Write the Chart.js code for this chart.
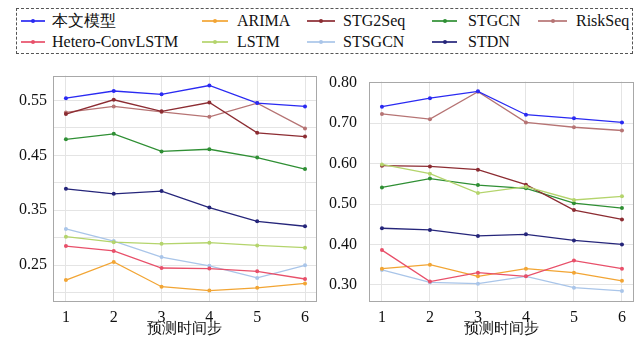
<!DOCTYPE html>
<html>
<head>
<meta charset="utf-8">
<script src="https://cdn.jsdelivr.net/npm/chart.js@4/dist/chart.umd.min.js"></script>
<style>
  body { margin: 0; width: 641px; height: 339px; background: #fff; position: relative; overflow: hidden;
         font-family: 'Liberation Serif'; }
  #legend { position: absolute; left: 16px; top: 8px; width: 617px; height: 46px;
            border: 1px dashed #555; box-sizing: border-box; }
  .lg-line { position: absolute; height: 1.6px; }
  .lg-dot { position: absolute; width: 4px; height: 4px; border-radius: 50%; }
  .lg-text { position: absolute; font-family: 'Liberation Serif'; font-size: 16px; line-height: 20px;
             white-space: nowrap; color: #111; }
  .panel { position: absolute; top: 60px; }
</style>
</head>
<body>
<div id="legend"></div>
<div class="panel" style="left:0px"><canvas id="chartA" width="320" height="279"></canvas></div>
<div class="panel" style="left:320px"><canvas id="chartB" width="321" height="279"></canvas></div>
<script>
// Prediction horizon (time steps)
const steps = [1, 2, 3, 4, 5, 6];

const seriesNames  = ['本文模型', 'Hetero-ConvLSTM', 'ARIMA', 'LSTM', 'STG2Seq', 'STSGCN', 'STGCN', 'STDN', 'RiskSeq'];
const seriesColors = ['#2a2af2', '#e8506a', '#f2a534', '#b4d46c', '#8c2c32', '#a9c5e9', '#2f8f34', '#25257a', '#b67474'];

// Left panel values
const oursA    = [0.554, 0.567, 0.561, 0.577, 0.545, 0.539];
const heteroA  = [0.285, 0.276, 0.245, 0.244, 0.239, 0.225];
const arimaA   = [0.223, 0.256, 0.211, 0.204, 0.209, 0.217];
const lstmA    = [0.302, 0.292, 0.289, 0.291, 0.286, 0.282];
const stg2seqA = [0.525, 0.551, 0.530, 0.546, 0.491, 0.484];
const stsgcnA  = [0.316, 0.294, 0.265, 0.249, 0.227, 0.250];
const stgcnA   = [0.479, 0.489, 0.457, 0.461, 0.446, 0.425];
const stdnA    = [0.389, 0.380, 0.385, 0.355, 0.330, 0.321];
const riskseqA = [0.528, 0.539, 0.529, 0.520, 0.545, 0.499];

// Right panel values
const oursB    = [0.741, 0.762, 0.779, 0.721, 0.712, 0.702];
const heteroB  = [0.386, 0.308, 0.330, 0.321, 0.360, 0.340];
const arimaB   = [0.340, 0.350, 0.321, 0.340, 0.330, 0.310];
const lstmB    = [0.598, 0.575, 0.527, 0.543, 0.510, 0.519];
const stg2seqB = [0.595, 0.593, 0.585, 0.548, 0.485, 0.462];
const stsgcnB  = [0.337, 0.306, 0.303, 0.321, 0.293, 0.285];
const stgcnB   = [0.541, 0.563, 0.547, 0.539, 0.502, 0.490];
const stdnB    = [0.440, 0.436, 0.421, 0.425, 0.410, 0.400];
const riskseqB = [0.723, 0.710, 0.778, 0.702, 0.690, 0.682];

const seriesA = [oursA, heteroA, arimaA, lstmA, stg2seqA, stsgcnA, stgcnA, stdnA, riskseqA];
const seriesB = [oursB, heteroB, arimaB, lstmB, stg2seqB, stsgcnB, stgcnB, stdnB, riskseqB];

const xTitle = '预测时间步';

const serifFont = "'Liberation Serif'";
Chart.defaults.font.family = serifFont;

// Legend (two rows, filled column by column)
const legendCols = [
  { lineL: 21,  lineR: 45,  text: 52 },
  { lineL: 202, lineR: 228, text: 237 },
  { lineL: 307, lineR: 335, text: 343 },
  { lineL: 432, lineR: 457, text: 468 },
  { lineL: 538, lineR: 567, text: 576 }
];
const legendRows = [21, 42];

function buildLegend() {
  const box = document.getElementById('legend');
  const ox = 17, oy = 9; // legend box inner origin
  seriesNames.forEach((name, i) => {
    const col = legendCols[Math.floor(i / 2)];
    const cy = legendRows[i % 2];
    const line = document.createElement('div');
    line.className = 'lg-line';
    line.style.left = (col.lineL - ox) + 'px';
    line.style.width = (col.lineR - col.lineL) + 'px';
    line.style.top = (cy - oy - 0.8) + 'px';
    line.style.background = seriesColors[i];
    line.style.opacity = '0.85';
    const dot = document.createElement('div');
    dot.className = 'lg-dot';
    dot.style.left = ((col.lineL + col.lineR) / 2 - ox - 2) + 'px';
    dot.style.top = (cy - oy - 2) + 'px';
    dot.style.background = seriesColors[i];
    const txt = document.createElement('div');
    txt.className = 'lg-text';
    txt.style.left = (col.text - ox) + 'px';
    txt.style.top = (cy - oy - 10) + 'px';
    txt.style.fontFamily = "'Liberation Serif'";
    txt.textContent = name;
    box.appendChild(line); box.appendChild(dot); box.appendChild(txt);
  });
}

// Frame around the plotting area
const framePlugin = {
  id: 'frame',
  afterDraw(chart) {
    const { ctx, chartArea: a } = chart;
    ctx.save();
    ctx.strokeStyle = '#a8a8a8';
    ctx.lineWidth = 1;
    ctx.strokeRect(Math.round(a.left) + 0.5, Math.round(a.top) + 0.5,
                   Math.round(a.right - a.left), Math.round(a.bottom - a.top));
    ctx.restore();
  }
};

function makeChart(id, values, cfg) {
  const datasets = values.map((arr, i) => ({
    label: seriesNames[i],
    data: arr.map((v, k) => ({ x: steps[k], y: v })),
    borderColor: seriesColors[i],
    backgroundColor: seriesColors[i],
    borderWidth: 1.3,
    pointRadius: 2,
    pointBorderWidth: 0,
    pointHoverRadius: 2,
    tension: 0
  }));
  return new Chart(document.getElementById(id), {
    type: 'line',
    data: { datasets },
    plugins: [framePlugin],
    options: {
      responsive: false,
      animation: false,
      layout: { padding: { top: 13, right: cfg.padRight, left: 0, bottom: 0 } },
      plugins: { legend: { display: false }, tooltip: { enabled: false } },
      scales: {
        x: {
          type: 'linear',
          min: 0.73, max: 6.23,
          afterBuildTicks: s => { s.ticks = steps.map(v => ({ value: v })); },
          afterFit: s => { s.height = 38; },
          grid: { color: '#e4e4e4', drawTicks: false },
          border: { display: false },
          ticks: { padding: 7, color: '#111', font: { family: serifFont, size: 16 },
                   callback: v => String(v) },
          title: { display: true, text: xTitle, color: '#111', padding: { top: 0, bottom: 1 },
                   font: { family: serifFont, size: 15 } }
        },
        y: {
          min: cfg.yMin, max: cfg.yMax,
          afterBuildTicks: s => { s.ticks = cfg.yTicks.map(v => ({ value: v })); },
          afterFit: s => { s.width = cfg.yWidth; },
          grid: { color: '#e4e4e4', drawTicks: false },
          border: { display: false },
          ticks: { padding: cfg.labelPad, color: '#111', font: { family: serifFont, size: 16 },
                   callback: v => (cfg.yLabels.some(l => Math.abs(l - v) < 1e-6) ? v.toFixed(2) : '') }
        }
      }
    }
  });
}

function drawAll() {
  buildLegend();
  makeChart('chartA', seriesA, {
    yMin: 0.185, yMax: 0.595,
    yTicks: [0.20, 0.25, 0.30, 0.35, 0.40, 0.45, 0.50, 0.55],
    yLabels: [0.25, 0.35, 0.45, 0.55],
    yWidth: 53, labelPad: 6, padRight: 4
  });
  makeChart('chartB', seriesB, {
    yMin: 0.26, yMax: 0.803,
    yTicks: [0.30, 0.40, 0.50, 0.60, 0.70, 0.80],
    yLabels: [0.30, 0.40, 0.50, 0.60, 0.70, 0.80],
    yWidth: 49, labelPad: 12, padRight: 8
  });
}

// Make sure the serif face is ready before the canvases render text
if (document.fonts && document.fonts.load) {
  document.fonts.load("16px 'Liberation Serif'").then(drawAll, drawAll);
} else {
  drawAll();
}
</script>
</body>
</html>
